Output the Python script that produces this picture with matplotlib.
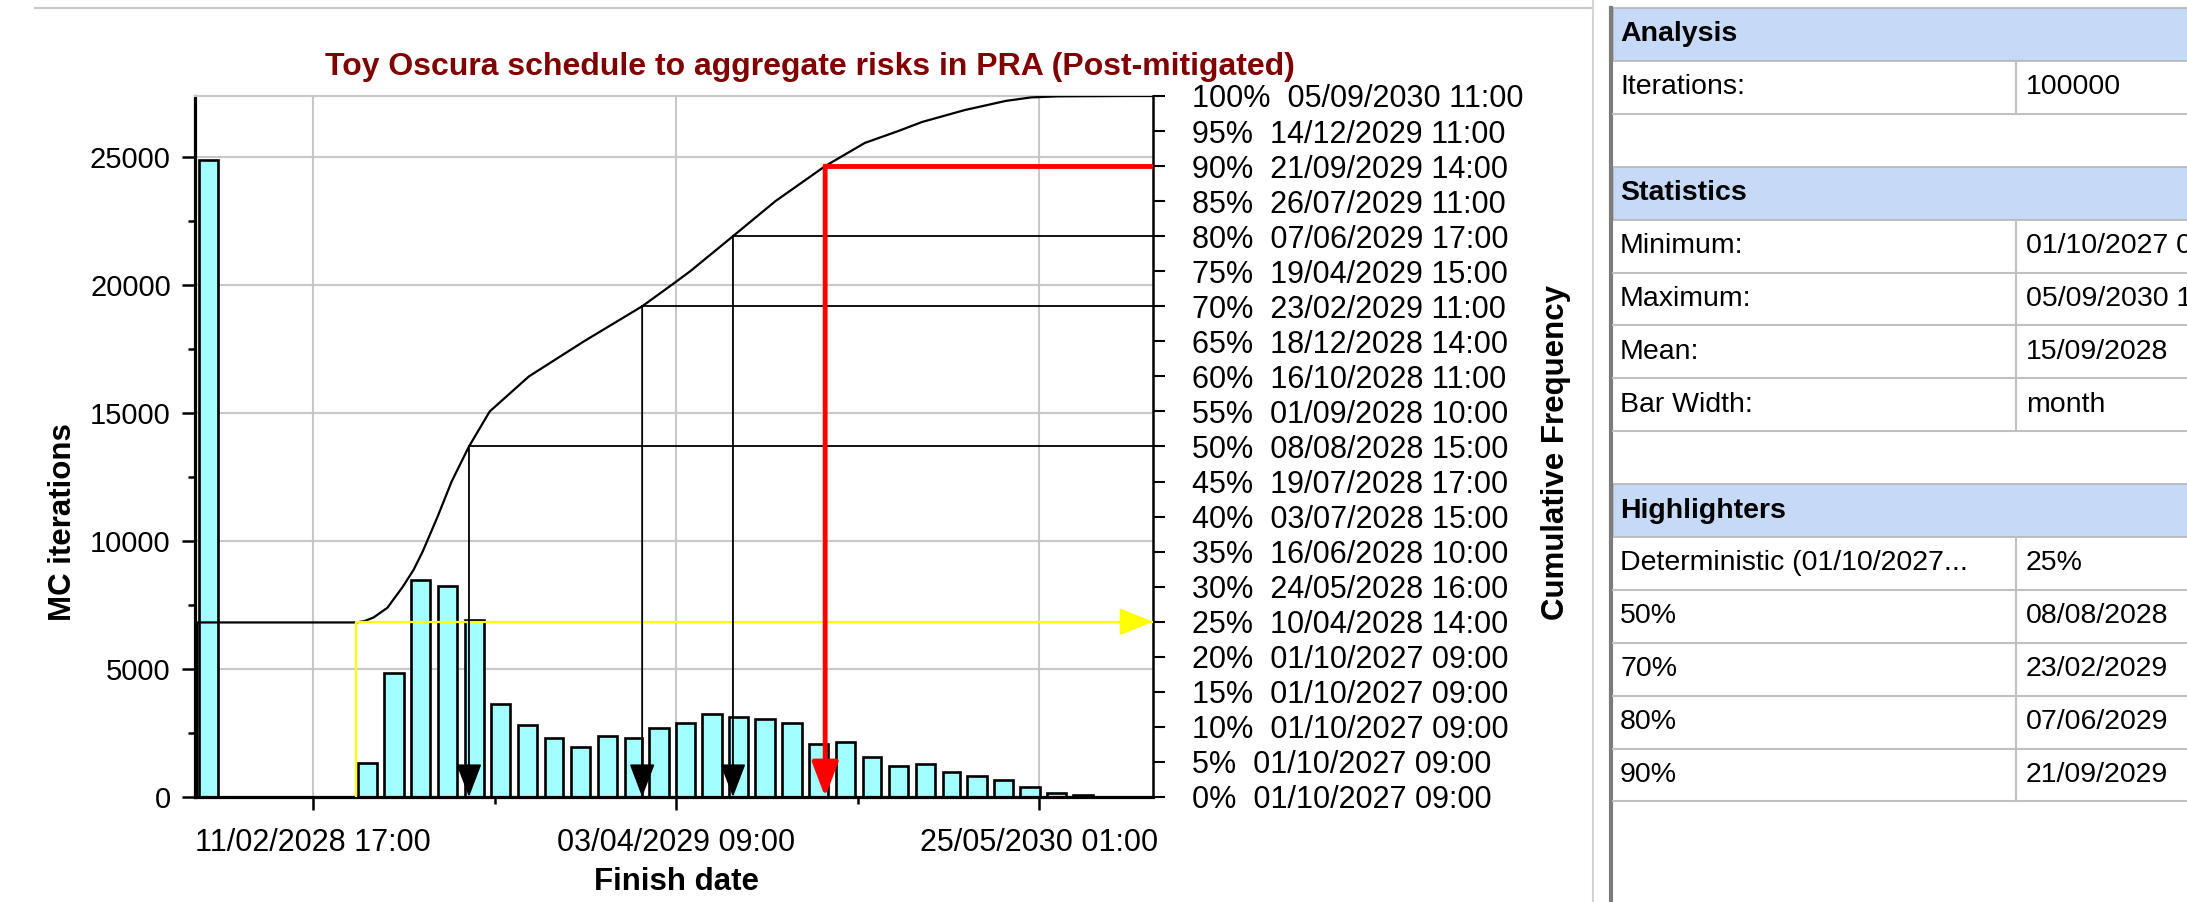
import matplotlib
matplotlib.use("Agg")
import matplotlib.pyplot as plt
import matplotlib.dates as mdates
from matplotlib.patches import Rectangle
import numpy as np
import pandas as pd

plt.rcParams["font.family"] = ["Liberation Sans", "DejaVu Sans"]

W, H = 2187, 902
FMT = "%d/%m/%Y %H:%M"

title = "Toy Oscura schedule to aggregate risks in PRA (Post-mitigated)"

# monthly histogram of finish dates, first bin opens at the earliest finish
first_bin = "01/10/2027 09:00"
bin_counts = [24900, 0, 0, 0, 0, 0,
              1330, 4860, 8490, 8230, 6930, 3630, 2795, 2314, 1963, 2380, 2314, 2704,
              2873, 3224, 3107, 3042, 2873, 2054, 2145, 1560, 1222, 1300, 962, 806,
              650, 390, 150, 70]

# percentile table shown on the right axis
pct_levels = list(range(0, 101, 5))
pct_dates = [
    "01/10/2027 09:00", "01/10/2027 09:00", "01/10/2027 09:00", "01/10/2027 09:00",
    "01/10/2027 09:00", "10/04/2028 14:00", "24/05/2028 16:00", "16/06/2028 10:00",
    "03/07/2028 15:00", "19/07/2028 17:00", "08/08/2028 15:00", "01/09/2028 10:00",
    "16/10/2028 11:00", "18/12/2028 14:00", "23/02/2029 11:00", "19/04/2029 15:00",
    "07/06/2029 17:00", "26/07/2029 11:00", "21/09/2029 14:00", "14/12/2029 11:00",
    "05/09/2030 11:00",
]

# cumulative frequency curve (%)
curve_dates = [
    "01/10/2027 09:00", "01/10/2027 09:00", "01/04/2028 09:00", "10/04/2028 14:00",
    "21/04/2028 00:00", "07/05/2028 00:00", "24/05/2028 16:00", "06/06/2028 00:00",
    "16/06/2028 10:00", "03/07/2028 15:00", "19/07/2028 17:00", "08/08/2028 15:00",
    "01/09/2028 10:00", "16/10/2028 11:00", "18/12/2028 14:00", "23/02/2029 11:00",
    "31/03/2029 00:00", "19/04/2029 15:00", "07/06/2029 17:00", "26/07/2029 11:00",
    "21/09/2029 14:00", "06/11/2029 00:00", "14/12/2029 11:00", "11/01/2030 00:00",
    "01/03/2030 00:00", "17/04/2030 00:00", "16/05/2030 00:00", "15/06/2030 00:00",
    "05/09/2030 11:00",
]
curve_pct = [0, 24.9, 24.9, 25.1, 25.6, 27.0, 30, 32.4, 35, 40, 45, 50, 55, 60, 65, 70,
             73.2, 75, 80, 85, 90, 93.3, 95, 96.3, 98.0, 99.3, 99.8, 99.95, 100]

# highlighters
deterministic_pct = 25
deterministic_curve_date = "01/04/2028 09:00"
highlight_pcts = [50, 70, 80, 90]
highlight_colors = ["black", "black", "black", "red"]

x_tick_labels = ["11/02/2028 17:00", "03/04/2029 09:00", "25/05/2030 01:00"]

# side panel
panel_sections = [
    ("Analysis", [("Iterations:", "100000")]),
    ("Statistics", [("Minimum:", "01/10/2027 09:00"), ("Maximum:", "05/09/2030 11:00"),
                    ("Mean:", "15/09/2028"), ("Bar Width:", "month")]),
    ("Highlighters", [("Deterministic (01/10/2027...", "25%"), ("50%", "08/08/2028"),
                      ("70%", "23/02/2029"), ("80%", "07/06/2029"), ("90%", "21/09/2029")]),
]


def to_num(s):
    return mdates.date2num(pd.to_datetime(s, format=FMT))


fig = plt.figure(figsize=(W / 100, H / 100), dpi=100)
fig.patch.set_facecolor("white")

ax = fig.add_axes([195 / W, 1 - 797 / H, 958 / W, 701 / H])

# --- histogram ---
start = pd.to_datetime(first_bin, format=FMT)
edges = mdates.date2num([start + pd.DateOffset(months=i) for i in range(len(bin_counts) + 1)])
spans = np.diff(edges)
counts = np.array(bin_counts)
keep = counts > 0
ax.bar(edges[:-1][keep] + 0.07 * spans[keep], counts[keep], width=0.72 * spans[keep],
       align="edge", color="#a3ffff", edgecolor="black", linewidth=1.9, zorder=2)

x_lo = edges[0] - 2.3
x_hi = to_num(pct_dates[-1]) + 27.5
ax.set_xlim(x_lo, x_hi)
ax.set_ylim(0, max(bin_counts) * 1.1)

major = [to_num(s) for s in x_tick_labels]
ax.set_xticks(major)
ax.set_xticklabels(x_tick_labels)
ax.set_xticks([(a + b) / 2 for a, b in zip(major[:-1], major[1:])], minor=True)
ax.set_yticks(np.arange(0, 25001, 5000))
ax.set_yticks(np.arange(2500, 27500, 5000), minor=True)

ax.tick_params(which="major", length=9.4, width=1.8, pad=8)
ax.tick_params(which="minor", length=5, width=1.8)
ax.tick_params(axis="y", labelsize=21)
ax.tick_params(axis="x", which="major", labelsize=22, pad=13)
ax.grid(True, which="major", color="#c8c8c8", linewidth=1.5)
ax.set_axisbelow(True)

ax.spines["top"].set_color("#c8c8c8")
ax.spines["top"].set_linewidth(1.5)
ax.spines["left"].set_linewidth(2.3)
ax.spines["bottom"].set_linewidth(2.3)
ax.spines["right"].set_visible(False)

# --- cumulative axis ---
ax2 = ax.twinx()
ax2.set_xlim(x_lo, x_hi)
ax2.set_ylim(0, 100)
ax2.set_yticks(pct_levels)
ax2.set_yticklabels([f"{p}%  {d}" for p, d in zip(pct_levels, pct_dates)])
ax2.tick_params(axis="y", length=8.6, width=1.5, labelsize=22, pad=19.5)
for side in ("top", "left", "bottom"):
    ax2.spines[side].set_visible(False)
ax2.spines["right"].set_linewidth(1.8)

curve_x = [to_num(s) for s in curve_dates] + [x_hi]
ax2.plot(curve_x, curve_pct + [100], color="black", linewidth=1.6, zorder=3)

# deterministic marker
yd = to_num(deterministic_curve_date)
ax2.plot([yd, yd, x_hi], [0, deterministic_pct, deterministic_pct],
         color="yellow", linewidth=1.6, zorder=4)
ax2.annotate("", xy=(x_hi, deterministic_pct), xytext=(x_hi - 40, deterministic_pct),
             arrowprops=dict(arrowstyle="-|>,head_length=2.1,head_width=0.85",
                             color="yellow", lw=1.6, shrinkA=0, shrinkB=0,
                             mutation_scale=10), zorder=4)

# percentile highlighters
for pct, colour in zip(highlight_pcts, highlight_colors):
    d = to_num(pct_dates[pct_levels.index(pct)])
    lw = 3.5 if colour == "red" else 1.3
    ax2.plot([d, x_hi], [pct, pct], color=colour, linewidth=lw, zorder=5)
    ax2.annotate("", xy=(d, 0), xytext=(d, pct),
                 arrowprops=dict(arrowstyle="-|>,head_length=2.1,head_width=0.8",
                                 color=colour, lw=lw, shrinkA=0, shrinkB=0,
                                 mutation_scale=10), zorder=5)

# --- labels ---
fig.text(810 / W, 1 - 67 / H, title, color="#800000", fontsize=23, fontweight="bold",
         ha="center", va="center")
fig.text(63 / W, 1 - 522 / H, "MC iterations", rotation=90, fontsize=22.5,
         fontweight="bold", ha="center", va="center")
fig.text(1556 / W, 1 - 452 / H, "Cumulative Frequency", rotation=90, fontsize=22.5,
         fontweight="bold", ha="center", va="center")
fig.text(676 / W, 1 - 882 / H, "Finish date", fontsize=22.5, fontweight="bold",
         ha="center", va="center")

# --- side panel drawn in pixel coordinates ---
tb = fig.add_axes([0, 0, 1, 1], zorder=-1)
tb.set_xlim(0, W)
tb.set_ylim(H, 0)
tb.axis("off")

tb.plot([35, 1593], [8, 8], color="#c8c8c8", linewidth=1.5)
tb.plot([1593, 1593], [0, H], color="#d4d4d4", linewidth=1.5)
tb.plot([1611, 1611], [8, H], color="#7c7c7c", linewidth=3)

row_h = 52.9
x_left, x_div = 1613, 2016
y = 8
for n, (head, items) in enumerate(panel_sections):
    if n:
        y += row_h  # empty spacer row
    tb.add_patch(Rectangle((x_left, y), W - x_left + 5, row_h, facecolor="#c6d9f7",
                           edgecolor="#b4b4b4", linewidth=1.2))
    tb.text(1620, y + row_h / 2, head, fontsize=20.5, fontweight="bold", va="center")
    y += row_h
    for label, value in items:
        tb.plot([x_left, W], [y + row_h, y + row_h], color="#c0c0c0", linewidth=1.5)
        tb.plot([x_div, x_div], [y, y + row_h], color="#c0c0c0", linewidth=1.5)
        tb.text(1620, y + row_h / 2, label, fontsize=20.5, va="center")
        tb.text(2026, y + row_h / 2, value, fontsize=20.5, va="center")
        y += row_h

fig.savefig("out.png", dpi=100)
